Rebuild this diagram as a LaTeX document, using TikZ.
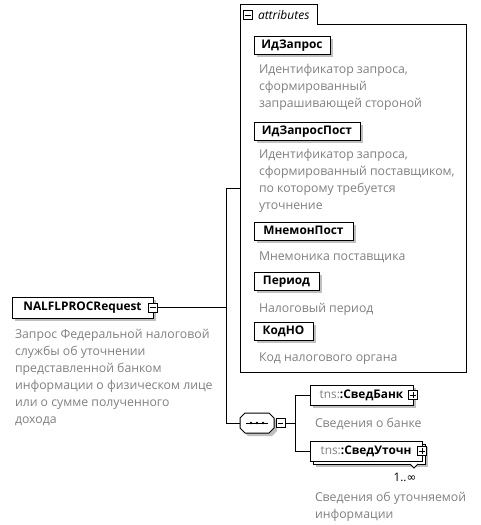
\documentclass[tikz,border=0pt]{standalone}
\usepackage{fontspec}
\setmainfont{Open Sans}
\newfontfamily\symfont{DejaVu Sans}
\usetikzlibrary{shadows}
\definecolor{desccol}{RGB}{128,128,128}
\definecolor{shadcol}{RGB}{192,192,192}
\tikzset{
  every node/.style={inner sep=0pt, outer sep=0pt},
  elboxns/.style={draw, fill=white, anchor=north west, text height=6.6pt, text depth=1.7pt,
    font=\fontsize{8.9}{11}\selectfont\bfseries},
  elbox/.style={elboxns, general shadow={fill=shadcol, shadow xshift=2.25pt, shadow yshift=-2.25pt}},
  desc/.style={anchor=north west, align=left, text=desccol, font=\fontsize{9.2}{12.75}\selectfont},
  sq/.style={draw, fill=white, minimum size=6.75pt},
  minussq/.style={sq, path picture={\draw ([xshift=1.4pt]path picture bounding box.west) -- ([xshift=-1.4pt]path picture bounding box.east);}},
  plussq/.style={sq, path picture={\draw ([xshift=1.4pt]path picture bounding box.west) -- ([xshift=-1.4pt]path picture bounding box.east);
     \draw ([yshift=1.4pt]path picture bounding box.south) -- ([yshift=-1.4pt]path picture bounding box.north);}},
}
\begin{document}
\begin{tikzpicture}[x=0.75pt,y=-0.75pt,line width=0.75pt]
\useasboundingbox (0,0) rectangle (480,525);

% attributes frame
\node[anchor=north west, minimum width=169.5pt, minimum height=261pt] (attrs) at (240,24) {};
\node[anchor=south west, minimum width=57.75pt, minimum height=15pt] (attrtab) at (attrs.north west) {};
\draw (attrtab.south east) -- (attrs.north east) -- (attrs.south east) -- (attrs.south west)
  -- (attrtab.north west) -- (attrtab.north east) -- (attrtab.south east);
\node[minussq] (attrsq) at (248,15) {};
\node[anchor=west, font=\fontsize{9}{10}\selectfont\itshape] (attrlbl) at (258,15) {attributes};

% attribute elements
\node[elbox, minimum width=57pt, minimum height=13.5pt] (a1) at (254,36) {ИдЗапрос};
\node[desc] (d1) at (259,64.5) {Идентификатор запроса,\\сформированный\\запрашивающей стороной};
\node[elbox, minimum width=79.5pt, minimum height=13.5pt] (a2) at (254,122) {ИдЗапросПост};
\node[desc] (d2) at (259,149.5) {Идентификатор запроса,\\сформированный поставщиком,\\по которому требуется\\уточнение};
\node[elbox, minimum width=74.25pt, minimum height=13.5pt] (a3) at (254,222) {МнемонПост};
\node[desc] (d3) at (259,251.5) {Мнемоника поставщика};
\node[elbox, minimum width=48.75pt, minimum height=13.5pt] (a4) at (254,272) {Период};
\node[desc] (d4) at (259,303) {Налоговый период};
\node[elbox, minimum width=44.25pt, minimum height=13.5pt] (a5) at (254,322) {КодНО};
\node[desc] (d5) at (259,353) {Код налогового органа};

% root
\node[elbox, minimum width=105.75pt, minimum height=15.75pt] (root) at (12,297) {NALFLPROCRequest\hspace{3pt}};
\node[minussq] (rootsq) at (root.east) {};
\node[desc] (rootdesc) at (15,329) {Запрос Федеральной налоговой\\службы об уточнении\\представленной банком\\информации о физическом лице\\или о сумме полученного\\дохода};

% sequence
\node[minimum width=25.5pt, minimum height=15pt] (seq) at (257,423) {};
\fill[shadcol] ([shift={(8,3)}]seq.north west) -- ([shift={(-2,3)}]seq.north east) -- ([shift={(3,8)}]seq.north east)
  -- ([shift={(3,-2)}]seq.south east) -- ([shift={(-2,3)}]seq.south east) -- ([shift={(8,3)}]seq.south west)
  -- ([shift={(3,-2)}]seq.south west) -- ([shift={(3,8)}]seq.north west) -- cycle;
\draw[fill=white] ([shift={(5,0)}]seq.north west) -- ([shift={(-5,0)}]seq.north east) -- ([shift={(0,5)}]seq.north east)
  -- ([shift={(0,-5)}]seq.south east) -- ([shift={(-5,0)}]seq.south east) -- ([shift={(5,0)}]seq.south west)
  -- ([shift={(0,-5)}]seq.south west) -- ([shift={(0,5)}]seq.north west) -- cycle;
\draw ([xshift=4.5pt]seq.west) -- ([xshift=-4.5pt]seq.east);
\foreach \dx in {-6,0,6} \fill ([xshift=\dx*0.75pt]seq.center) circle (1pt);
\node[minussq] (seqsq) at (280.5,423) {};

% children
\node[elbox, minimum width=77.25pt, minimum height=15pt] (sb) at (310,385)
  {\textcolor{desccol}{\mdseries tns:}:СведБанк\hspace{2pt}};
\node[plussq] (sbsq) at (sb.east) {};
\node[desc] (sbdesc) at (315,418) {Сведения о банке};

\node[elbox, minimum width=84pt, minimum height=15pt] (suback) at (313,444) {};
\node[elboxns, minimum width=84pt, minimum height=15pt] (su) at (310,441)
  {\textcolor{desccol}{\mdseries tns:}:СведУточн\hspace{2pt}};
\node[plussq] (susq) at (su.east) {};
\draw[fill=white] ([shift={(-15,0)}]suback.south east) -- ([shift={(-11,4)}]suback.south east) -- ([shift={(-7,0)}]suback.south east);
\node[font=\fontsize{8.8}{10}\selectfont] (mult) at (405,477) {1..{\symfont ∞}};
\node[desc] (sudesc) at (315,492) {Сведения об уточняемой\\информации};

% connectors
\coordinate (ja) at (226,188);
\coordinate (jb) at (226,423);
\coordinate (jc1) at (295,395);
\coordinate (jc2) at (295,451);
\draw (rootsq.east) -- (rootsq.east -| ja);
\draw (ja) -- (jb);
\draw (ja) -- (ja -| attrs.west);
\draw (jb) -- (seq.west);
\draw (seqsq.east) -- (seqsq.east -| jc1);
\draw (jc1) -- (jc2);
\draw (jc1) -- (jc1 -| sb.west);
\draw (jc2) -- (jc2 -| su.west);
\end{tikzpicture}
\end{document}
